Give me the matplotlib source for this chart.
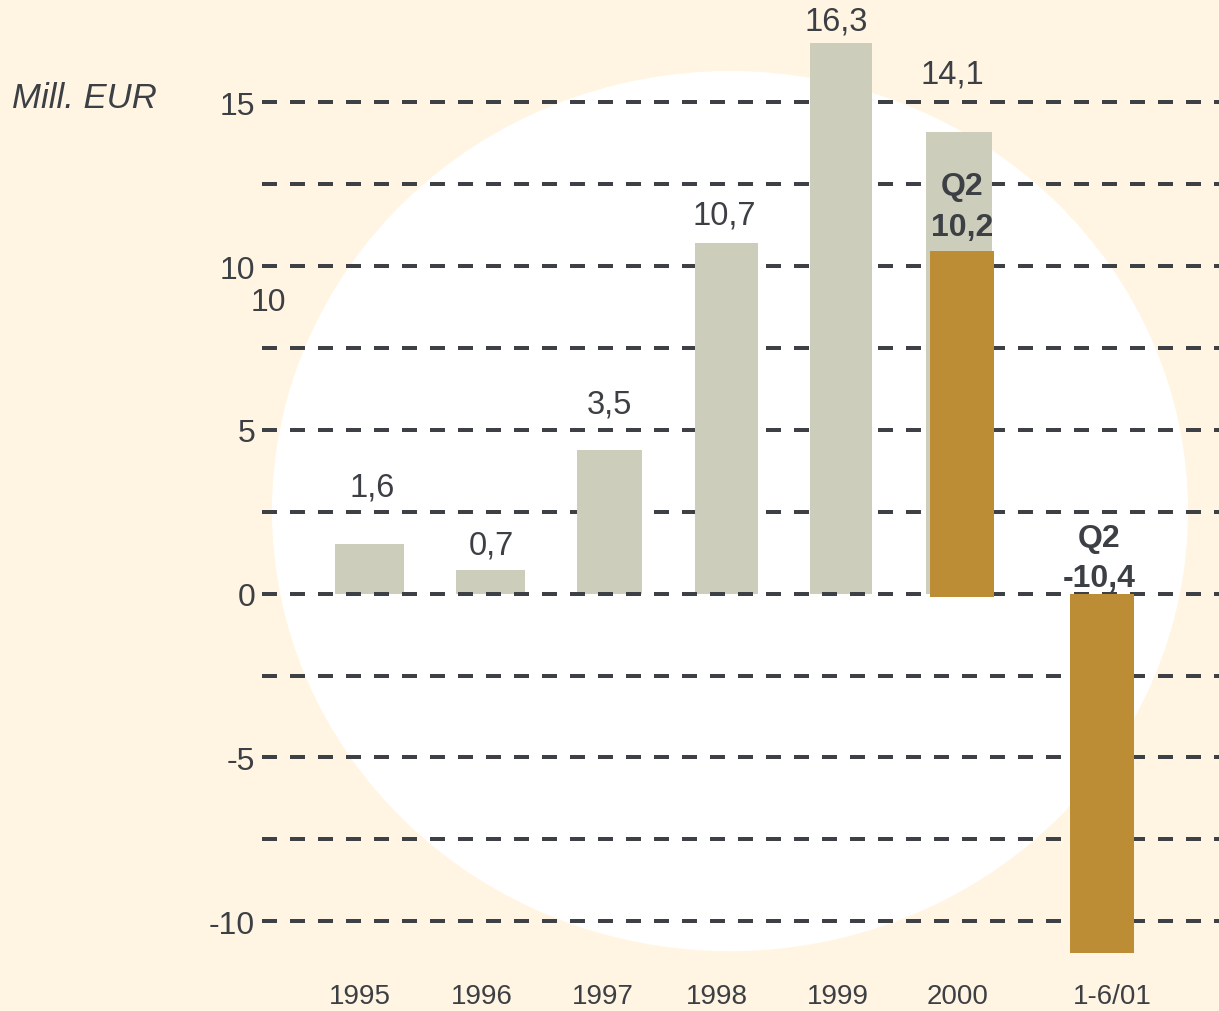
import matplotlib
matplotlib.use("Agg")
import matplotlib.pyplot as plt
from matplotlib.patches import Ellipse

plt.rcParams["font.family"] = ["Liberation Sans", "DejaVu Sans"]

# Daten
years = ["1995", "1996", "1997", "1998", "1999", "2000", "1-6/01"]
annual = [1.52, 0.73, 4.38, 10.71, 16.8, 14.1]
annual_labels = ["1,6", "0,7", "3,5", "10,7", "16,3", "14,1"]
q2_values = [10.57, -10.98]
q2_bottoms = [-0.1, 0.0]
q2_labels = ["Q2\n10,2", "Q2\n-10,4"]
y_ticks = [15, 10, 5, 0, -5, -10]
grid_levels = [15, 12.5, 10, 7.5, 5, 2.5, 0, -2.5, -5, -7.5, -10]

# Layout (x in Pixel-Einheiten)
bar_x = [369.5, 490.5, 609.5, 726.5, 841, 959]
bar_w = [69, 69, 65, 63, 62, 66]
q2_x = [962, 1102]
q2_w = [64, 64]
label_x = [372, 491, 609, 724, 836, 952]
label_y = [3.26, 1.49, 5.79, 11.56, 17.48, 15.87]
q2_label_x = [962, 1099]
q2_label_y = [11.82, 1.08]
year_x = [360, 482, 603, 717, 838, 958, 1112]

BG = "#FFF5E2"
GREY = "#CDCDBB"
GOLD = "#BD8D36"
TXT = "#3C4045"
DASH = "#3D4146"

fig = plt.figure(figsize=(12.19, 10.12), dpi=100)
fig.patch.set_facecolor(BG)
ax = fig.add_axes([262 / 1219, 0, 1 - 262 / 1219, 1])
ax.set_facecolor(BG)
ax.set_xlim(262, 1219)
ax.set_ylim(-12.74, 18.155)

# weisser Kreis
ax.add_patch(Ellipse((730, 2.52), 916, 26.87, color="white", lw=0, zorder=0))

# Gitterlinien
for lv in grid_levels:
    ax.axhline(lv, color=DASH, lw=2.88, linestyle=(0, (3.75, 3.25)),
               zorder=2.5 if lv == 0 else 1)

ax.bar(bar_x, annual, width=bar_w, color=GREY, zorder=2)
ax.bar(q2_x, q2_values, bottom=q2_bottoms, width=q2_w, color=GOLD, zorder=3)

for x, y, s in zip(label_x, label_y, annual_labels):
    ax.text(x, y, s, ha="center", va="center", fontsize=23.5, color=TXT, zorder=4)

for x, y, s in zip(q2_label_x, q2_label_y, q2_labels):
    ax.text(x, y, s, ha="center", va="center", fontsize=23, fontweight="bold",
            color=TXT, linespacing=1.45, zorder=4)

for x, s in zip(year_x, years):
    ax.text(x, -12.28, s, ha="center", va="center", fontsize=20, color=TXT)

ax.text(268, 8.91, "10", ha="center", va="center", fontsize=23, color=TXT)

ax.set_yticks(y_ticks)
ax.set_yticklabels([str(t) for t in y_ticks])
ax.tick_params(axis="y", length=0, pad=5, labelsize=23, labelcolor=TXT)
ax.set_xticks([])
for sp in ax.spines.values():
    sp.set_visible(False)

fig.text(12 / 1219, 1 - 99 / 1012, "Mill. EUR", fontsize=25, style="italic",
         color=TXT, ha="left", va="center")

fig.savefig("out.png", dpi=100, facecolor=BG)
